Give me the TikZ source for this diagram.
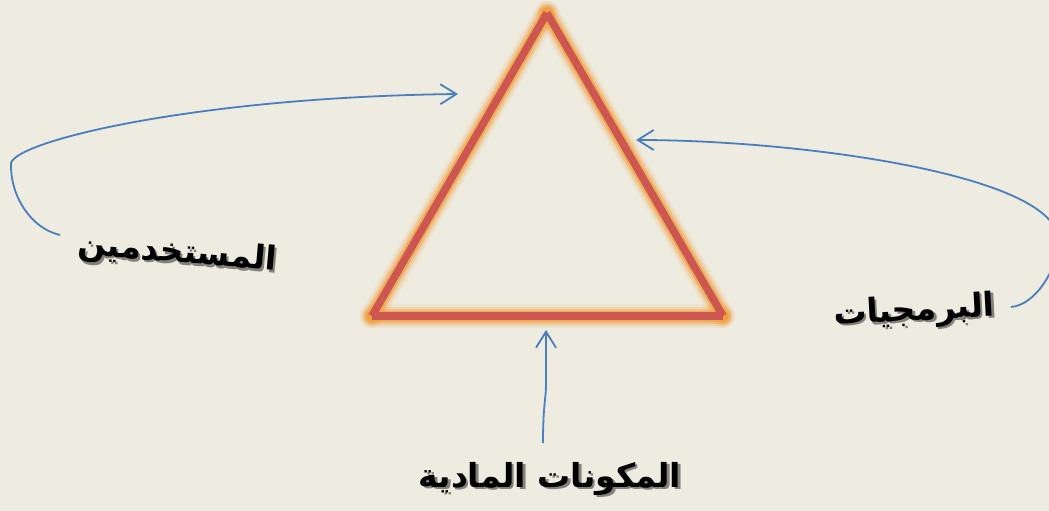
\documentclass[tikz,border=0pt]{standalone}
\usepackage{fontspec}
\usetikzlibrary{arrows.meta}
\TeXXeTstate=1
\newfontfamily\arabicfont[Script=Arabic]{DejaVu Sans}
\definecolor{bg}{RGB}{238,235,224}
\definecolor{tri}{RGB}{205,86,80}
\definecolor{glow}{RGB}{238,158,58}
\definecolor{conblue}{RGB}{74,126,190}
\newcommand{\shadowed}[1]{\makebox[0pt][l]{\kern2.5pt\raisebox{-2.5pt}{\color{black!45!bg}\beginR #1\endR}}\beginR #1\endR}
\tikzset{
  glowline/.style={draw=glow,line cap=round},
  triline/.style={draw=tri,line width=7.5pt,line cap=butt},
  conn/.style={draw=conblue,line width=1.8pt,-{Straight Barb[length=16pt,width=20pt,line width=1.8pt]}},
  lbl/.style={font=\arabicfont\bfseries\fontsize{33}{40}\selectfont,text=black,inner sep=0pt},
}
\begin{document}
\begin{tikzpicture}[x=1pt,y=-1pt]
\fill[bg] (0,0) rectangle (1049,511);
\useasboundingbox (0,0) rectangle (1049,511);
% triangle vertices
\coordinate (A) at (547,13);
\coordinate (B) at (372,316);
\coordinate (C) at (723,316);
% glow
\foreach \w/\o in {24/0.1,19/0.2,15/0.35,11/0.6}{
  \draw[glowline,line width=\w pt,opacity=\o] (B) -- (A);
  \draw[glowline,line width=\w pt,opacity=\o] (A) -- (C);
  \draw[glowline,line width=\w pt,opacity=\o] (B) -- (C);
}
\draw[triline] (B) -- (A);
\draw[triline] (A) -- (C);
\draw[triline] (B) -- (C);
% labels
\node[lbl,rotate=-5] (users) at (177,255) {\shadowed{المستخدمين}};
\node[lbl,rotate=3] (soft) at (914,313) {\shadowed{البرمجيات}};
\node[lbl] (hw) at (550,480) {\shadowed{المكونات المادية}};
% connector end points
\coordinate (u0) at (60,235);
\coordinate (u1) at (11,163);
\coordinate (uend) at (458,94);
\coordinate (s0) at (1011,307);
\coordinate (s1) at (1058,240);
\coordinate (send) at (636,140);
\coordinate (h0) at (543,443);
\coordinate (h1) at (546,385);
\coordinate (hend) at (546,330);
\draw[conn] (u0) .. controls (30,228) and (10,195) .. (u1) .. controls (18,140) and (200,97) .. (uend);
\begin{scope}
\clip (0,0) rectangle (1049,511);
\draw[conn] (s0) .. controls (1035,305) and (1058,270) .. (s1) .. controls (1058,175) and (800,140) .. (send);
\end{scope}
\draw[conn] (h0) .. controls (543,405) and (546,398) .. (h1) -- (hend);
\end{tikzpicture}
\end{document}
